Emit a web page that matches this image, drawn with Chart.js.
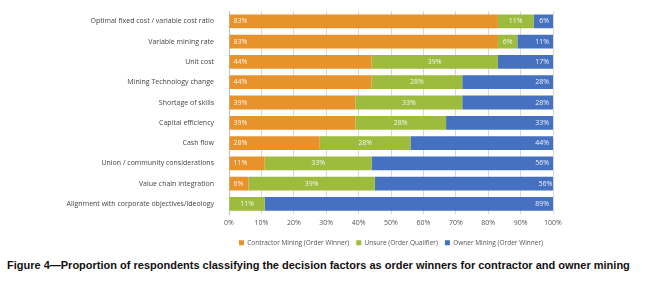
<!DOCTYPE html>
<html>
<head>
<meta charset="utf-8">
<script src="https://cdn.jsdelivr.net/npm/chart.js@4/dist/chart.umd.min.js"></script>
<style>
  body { margin: 0; background: #fff; }
  #wrap { position: absolute; left: 0; top: 0; width: 650px; height: 256px; }
  #caption { position: absolute; left: 7px; top: 259px; font-family: "Liberation Sans", Arial, sans-serif; font-weight: bold; font-size: 11px; color: #111; white-space: nowrap; }
</style>
</head>
<body>
<div id="wrap"><canvas id="chart"></canvas></div>
<div id="caption">Figure 4—Proportion of respondents classifying the decision factors as order winners for contractor and owner mining</div>
<script>
const factors = [
  'Optimal fixed cost / variable cost ratio',
  'Variable mining rate',
  'Unit cost',
  'Mining Technology change',
  'Shortage of skills',
  'Capital efficiency',
  'Cash flow',
  'Union / community considerations',
  'Value chain integration',
  'Alignment with corporate objectives/ideology'
];
const contractor = [83, 83, 44, 44, 39, 39, 28, 11, 6, 0];
const unsure     = [11, 6, 39, 28, 33, 28, 28, 33, 39, 11];
const owner      = [6, 11, 17, 28, 28, 33, 44, 56, 56, 89];
const ticks = [0, 10, 20, 30, 40, 50, 60, 70, 80, 90, 100];

const canvas = document.getElementById('chart');

// labels inside the bars: orange at start, green in the middle, blue at the end
const barText = {
  id: 'barText',
  afterDatasetsDraw(chart) {
    const ctx = chart.ctx;
    ctx.save();
    ctx.font = '7px "Open Sans", sans-serif';
    ctx.fillStyle = 'rgba(255,255,255,0.9)';
    ctx.textBaseline = 'middle';
    chart.data.datasets.forEach((ds, i) => {
      const meta = chart.getDatasetMeta(i);
      meta.data.forEach((bar, j) => {
        const v = ds.data[j];
        if (!v) return;
        const txt = v + '%';
        if (i === 0) { ctx.textAlign = 'left'; ctx.fillText(txt, bar.base + 4, bar.y); }
        else if (i === 1) { ctx.textAlign = 'center'; ctx.fillText(txt, (bar.base + bar.x) / 2, bar.y); }
        else { ctx.textAlign = 'right'; ctx.fillText(txt, bar.x - 4, bar.y); }
      });
    });
    ctx.restore();
  }
};

// legend sits under the plot, not under the whole canvas
const legendShift = {
  id: 'legendShift',
  afterLayout(chart) {
    const lg = chart.legend;
    const mid = (chart.chartArea.left + chart.chartArea.right) / 2;
    const off = mid - (lg.left + lg.right) / 2;
    lg.left += off;
    lg.right += off;
  }
};

new Chart(canvas, {
  type: 'bar',
  data: {
    labels: factors,
    datasets: [
      { label: 'Contractor Mining (Order Winner)', data: contractor, backgroundColor: '#E8922B' },
      { label: 'Unsure (Order Qualifier)', data: unsure, backgroundColor: '#9DBB3C' },
      { label: 'Owner Mining (Order Winner)', data: owner, backgroundColor: '#4670C0' }
    ]
  },
  options: {
    indexAxis: 'y',
    responsive: true,
    maintainAspectRatio: false,
    animation: false,
    barPercentage: 0.68,
    categoryPercentage: 1,
    layout: { padding: { top: -3, right: 97, left: 0, bottom: 0 } },
    plugins: {
      tooltip: { enabled: false },
      legend: {
        position: 'bottom',
        labels: {
          boxWidth: 5, boxHeight: 5, padding: 7,
          color: '#555',
          font: { family: '"Open Sans", sans-serif', size: 6.5 }
        }
      }
    },
    scales: {
      x: {
        stacked: true,
        min: 0, max: 100,
        afterBuildTicks: (scale) => { scale.ticks = ticks.map(v => ({ value: v })); },
        ticks: {
          callback: (v) => v + '%',
          color: '#555',
          font: { family: '"Open Sans", sans-serif', size: 7 },
          padding: 5,
          maxRotation: 0
        },
        grid: { color: '#d9d9d9', drawTicks: false },
        border: { display: false }
      },
      y: {
        stacked: true,
        afterFit: (scale) => { scale.width = 229; },
        ticks: {
          color: '#444',
          font: { family: '"Open Sans", sans-serif', size: 7 },
          padding: 7
        },
        grid: { display: false },
        border: { color: '#bfbfbf' }
      }
    }
  },
  plugins: [barText, legendShift]
});
</script>
</body>
</html>
